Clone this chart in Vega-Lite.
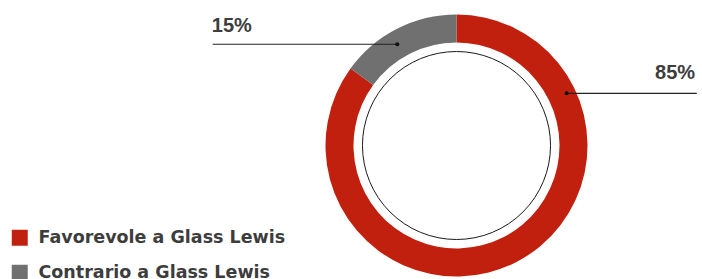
{
  "$schema": "https://vega.github.io/schema/vega-lite/v6.json",
  "width": 491,
  "height": 267,
  "autosize": {"type": "none"},
  "padding": {"left": 211, "top": 12, "right": 0, "bottom": 0},
  "background": "white",
  "config": {"view": {"stroke": null}},
  "layer": [
    {
      "data": {"values": [
        {"esito": "Favorevole a Glass Lewis", "quota": 85, "ordine": 1},
        {"esito": "Contrario a Glass Lewis", "quota": 15, "ordine": 2}
      ]},
      "mark": {"type": "arc", "radius": 131, "radius2": 103, "strokeWidth": 0},
      "encoding": {
        "theta": {"field": "quota", "type": "quantitative", "stack": true},
        "order": {"field": "ordine", "type": "quantitative"},
        "color": {
          "field": "esito",
          "type": "nominal",
          "scale": {"domain": ["Favorevole a Glass Lewis", "Contrario a Glass Lewis"], "range": ["#c2200f", "#707070"]},
          "legend": {
            "orient": "none",
            "legendX": -200,
            "legendY": 217,
            "title": null,
            "padding": 0,
            "symbolType": "square",
            "symbolSize": 256,
            "symbolStrokeWidth": 0,
            "labelFont": "DejaVu Sans",
            "labelFontWeight": "bold",
            "labelFontSize": 17.5,
            "labelColor": "#3d3d3d",
            "labelOffset": 10,
            "labelLimit": 400,
            "rowPadding": 16
          }
        }
      }
    },
    {
      "data": {"values": [{"cerchio": 1}]},
      "mark": {"type": "arc", "radius": 94, "theta": 0, "theta2": 6.2832, "fill": "white", "stroke": "#1a1a1a", "strokeWidth": 1},
      "encoding": {}
    },
    {
      "data": {"values": [
        {"etichetta": "15%", "xa": -1.861, "xb": -0.452, "ya": 0.773, "xt": -1.868, "yt": 0.869},
        {"etichetta": "85%", "xa": 1.834, "xb": 0.841, "ya": 0.398, "xt": 1.516, "yt": 0.505}
      ]},
      "encoding": {
        "x": {"field": "xa", "type": "quantitative", "scale": {"domain": [-1.874, 1.874], "nice": false, "zero": false}, "axis": null},
        "y": {"field": "ya", "type": "quantitative", "scale": {"domain": [-1.0191, 1.0191], "nice": false, "zero": false}, "axis": null}
      },
      "layer": [
        {
          "mark": {"type": "rule", "color": "#222222", "strokeWidth": 1.2},
          "encoding": {"x2": {"field": "xb"}}
        },
        {
          "mark": {"type": "point", "filled": true, "size": 16, "color": "#111111", "opacity": 1},
          "encoding": {"x": {"field": "xb", "type": "quantitative", "axis": null}}
        },
        {
          "mark": {"type": "text", "font": "Liberation Sans", "fontWeight": "bold", "fontSize": 20, "color": "#3d3d3d", "align": "left", "baseline": "alphabetic"},
          "encoding": {
            "x": {"field": "xt", "type": "quantitative", "axis": null},
            "y": {"field": "yt", "type": "quantitative", "axis": null},
            "text": {"field": "etichetta", "type": "nominal"}
          }
        }
      ]
    }
  ]
}
